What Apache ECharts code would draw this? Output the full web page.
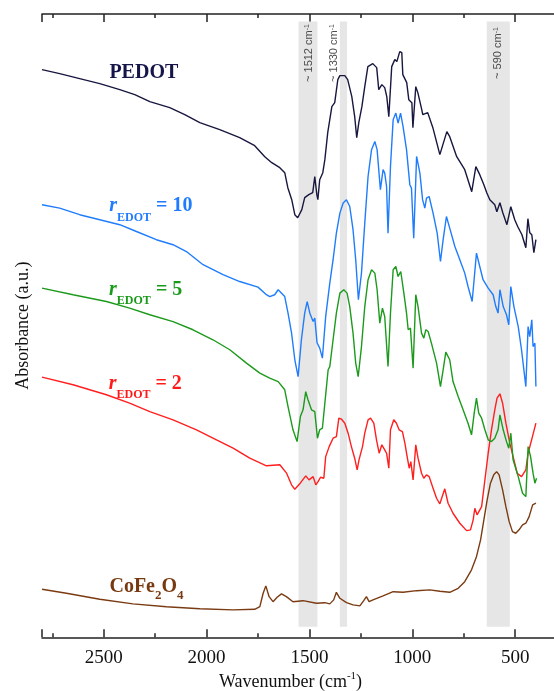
<!DOCTYPE html>
<html><head><meta charset="utf-8">
<script src="https://cdn.jsdelivr.net/npm/echarts@6/dist/echarts.min.js"></script>
<style>html,body{margin:0;padding:0;background:#fff}#c{width:554px;height:691px}</style>
</head><body><div id="c"></div>
<script>
// x: wavenumber (cm-1), y: absorbance (a.u., offset spectra)
const xTickLabels = [2500, 2000, 1500, 1000, 500];

const pedot = [[2800,2.837],[2714,2.817],[2617,2.792],[2519,2.767],[2422,2.737],[2349,2.712],[2276,2.677],[2179,2.647],[2106,2.612],[2033,2.572],[1936,2.537],[1839,2.497],[1766,2.457],[1717,2.402],[1683,2.372],[1644,2.347],[1620,2.322],[1605,2.247],[1586,2.187],[1571,2.112],[1557,2.097],[1537,2.137],[1523,2.197],[1503,2.212],[1484,2.222],[1474,2.302],[1464,2.212],[1459,2.187],[1450,2.287],[1435,2.322],[1425,2.387],[1411,2.522],[1391,2.652],[1377,2.672],[1362,2.787],[1352,2.807],[1328,2.807],[1314,2.787],[1294,2.702],[1280,2.602],[1270,2.497],[1260,2.572],[1245,2.652],[1231,2.752],[1216,2.852],[1192,2.867],[1173,2.847],[1163,2.737],[1148,2.762],[1134,2.747],[1124,2.702],[1114,2.602],[1100,2.852],[1085,2.887],[1075,2.877],[1061,2.927],[1051,2.922],[1046,2.812],[1027,2.772],[1017,2.687],[1002,2.672],[997,2.547],[983,2.752],[973,2.722],[954,2.637],[949,2.612],[925,2.622],[900,2.547],[866,2.412],[832,2.527],[818,2.502],[784,2.402],[745,2.337],[711,2.227],[691,2.352],[672,2.312],[652,2.262],[638,2.222],[623,2.187],[599,2.162],[589,2.127],[574,2.172],[560,2.122],[540,2.062],[521,2.152],[502,2.087],[487,2.052],[467,2.012],[448,1.947],[438,2.092],[429,2.022],[419,2.012],[409,1.922],[399,1.987]];

const rEdot10 = [[2800,2.162],[2714,2.145],[2617,2.112],[2519,2.087],[2422,2.062],[2341,2.028],[2244,1.987],[2163,1.962],[2098,1.928],[2017,1.862],[1920,1.812],[1839,1.778],[1750,1.750],[1709,1.712],[1693,1.703],[1669,1.712],[1652,1.737],[1644,1.728],[1620,1.703],[1604,1.620],[1587,1.522],[1571,1.387],[1555,1.303],[1539,1.487],[1523,1.620],[1511,1.678],[1498,1.620],[1482,1.578],[1474,1.595],[1463,1.472],[1450,1.445],[1437,1.395],[1421,1.603],[1401,1.770],[1385,1.887],[1369,2.020],[1352,2.120],[1336,2.170],[1320,2.187],[1304,2.153],[1288,2.037],[1275,1.887],[1262,1.687],[1247,1.820],[1231,2.070],[1215,2.303],[1198,2.437],[1182,2.478],[1171,2.437],[1155,2.237],[1142,2.337],[1134,2.320],[1125,2.253],[1118,2.020],[1106,2.353],[1093,2.587],[1080,2.620],[1069,2.570],[1057,2.620],[1045,2.553],[1028,2.437],[1012,2.262],[1004,2.245],[993,1.995],[979,2.403],[963,2.320],[950,2.187],[939,2.145],[931,2.195],[918,2.203],[899,2.120],[879,2.020],[863,1.878],[850,1.987],[834,2.103],[818,2.045],[793,1.953],[769,1.887],[745,1.820],[729,1.753],[709,1.678],[688,1.920],[672,1.853],[656,1.787],[631,1.745],[607,1.712],[594,1.653],[583,1.620],[574,1.737],[558,1.653],[542,1.612],[531,1.562],[521,1.753],[506,1.653],[485,1.553],[469,1.437],[448,1.253],[437,1.553],[429,1.503],[419,1.587],[413,1.453],[404,1.470],[399,1.253]];

const rEdot5 = [[2800,1.745],[2649,1.712],[2487,1.678],[2374,1.645],[2276,1.612],[2163,1.578],[2066,1.537],[1969,1.487],[1887,1.437],[1806,1.370],[1741,1.320],[1693,1.295],[1652,1.278],[1644,1.278],[1620,1.237],[1604,1.153],[1580,1.037],[1560,0.978],[1544,1.103],[1531,1.137],[1518,1.228],[1507,1.187],[1490,1.137],[1474,1.128],[1461,0.995],[1450,1.037],[1437,1.045],[1425,1.170],[1409,1.337],[1401,1.353],[1385,1.487],[1369,1.620],[1352,1.720],[1333,1.737],[1317,1.720],[1304,1.653],[1288,1.520],[1275,1.370],[1263,1.303],[1247,1.453],[1231,1.653],[1215,1.787],[1198,1.837],[1182,1.820],[1171,1.737],[1158,1.570],[1145,1.645],[1134,1.603],[1118,1.353],[1106,1.620],[1093,1.837],[1080,1.853],[1069,1.803],[1056,1.828],[1041,1.720],[1028,1.620],[1020,1.537],[1009,1.545],[996,1.345],[983,1.712],[972,1.653],[955,1.520],[944,1.495],[934,1.537],[923,1.528],[907,1.470],[882,1.370],[863,1.253],[850,1.337],[837,1.425],[818,1.387],[802,1.278],[777,1.203],[753,1.137],[729,1.070],[712,1.012],[699,1.120],[688,1.195],[677,1.120],[663,1.095],[647,1.037],[631,0.987],[615,0.978],[599,0.995],[583,1.037],[574,1.112],[558,1.037],[542,0.978],[531,0.945],[521,1.020],[510,0.887],[485,0.803],[464,0.720],[448,0.703],[437,0.953],[425,0.903],[413,0.820],[404,0.770],[396,0.795]];

const rEdot2 = [[2800,1.300],[2649,1.262],[2487,1.212],[2374,1.170],[2276,1.128],[2163,1.087],[2049,1.037],[1952,0.987],[1871,0.945],[1790,0.895],[1709,0.857],[1644,0.862],[1612,0.822],[1587,0.762],[1571,0.740],[1563,0.740],[1547,0.767],[1539,0.778],[1518,0.807],[1502,0.787],[1482,0.803],[1469,0.762],[1458,0.778],[1446,0.800],[1430,0.795],[1421,0.903],[1404,0.953],[1385,0.995],[1369,1.003],[1357,1.095],[1344,1.090],[1328,1.070],[1312,1.020],[1296,0.953],[1280,0.895],[1268,0.837],[1259,0.887],[1242,0.953],[1231,1.020],[1215,1.087],[1203,1.095],[1187,1.070],[1174,0.987],[1161,0.920],[1148,0.962],[1134,0.937],[1125,0.920],[1114,0.845],[1106,1.037],[1090,1.087],[1077,1.070],[1064,1.037],[1048,1.028],[1036,0.970],[1025,0.903],[1015,0.845],[1007,0.878],[996,0.787],[983,0.962],[972,0.895],[955,0.820],[944,0.795],[931,0.812],[918,0.803],[899,0.745],[882,0.695],[866,0.667],[842,0.742],[826,0.670],[802,0.620],[769,0.570],[736,0.533],[717,0.537],[704,0.587],[696,0.645],[685,0.612],[663,0.653],[647,0.787],[631,0.920],[615,1.037],[599,1.137],[588,1.195],[574,1.217],[561,1.170],[545,1.070],[526,0.970],[506,0.887],[490,0.820],[469,0.803],[448,0.837],[437,0.920],[420,0.987],[399,1.070]];

const coFe2O4 = [[2800,0.240],[2681,0.220],[2519,0.190],[2358,0.167],[2195,0.153],[2033,0.143],[1871,0.137],[1766,0.140],[1741,0.153],[1725,0.220],[1712,0.257],[1696,0.203],[1677,0.178],[1657,0.200],[1636,0.217],[1612,0.203],[1580,0.178],[1531,0.183],[1466,0.170],[1425,0.173],[1401,0.167],[1382,0.187],[1369,0.225],[1352,0.195],[1320,0.173],[1288,0.162],[1255,0.157],[1236,0.183],[1223,0.203],[1210,0.178],[1191,0.187],[1142,0.207],[1093,0.228],[1045,0.225],[979,0.233],[915,0.237],[866,0.230],[818,0.225],[777,0.245],[745,0.278],[712,0.337],[688,0.403],[668,0.487],[652,0.587],[636,0.687],[620,0.770],[604,0.812],[590,0.828],[578,0.812],[561,0.737],[545,0.653],[529,0.578],[513,0.528],[497,0.520],[481,0.537],[464,0.562],[448,0.570],[432,0.603],[415,0.662],[399,0.670]];

// shaded bands [from, to] (cm-1) and their vertical extent (a.u.)
const bandRanges = [[1553,1461],[1352,1317],[638,526]];
const bandExtent = [0.053, 3.078];
// band annotations: [wavenumber, absorbance, label number]
const bandLabels = [[1496,2.92,'1512'],[1372,2.92,'1330'],[574,2.92,'590']];
// series labels: [wavenumber, absorbance]
const seriesLabelPos = {
  pedot: [2305, 2.811],
  r10: [2271, 2.144],
  r5: [2296, 1.729],
  r2: [2298, 1.259],
  cofe: [2292, 0.240]
};

const C = {pedot:'#17173f', r10:'#1f7dfc', r5:'#1c9a1c', r2:'#ff1f1f', cofe:'#7a3b12'};
const LC = {pedot:'#15154a', r10:'#1f7cff', r5:'#199a19', r2:'#ff1a1a', cofe:'#773a10'};
const SERIF = 'Liberation Serif';

const axisColor = '#222';
const xBase = {type:'value', min:0, max:2800, inverse:true, splitLine:{show:false}};
function tickAxis(pos, interval, len, showLine, showLabel){
  return Object.assign({}, xBase, {
    position: pos, interval: interval,
    axisLine:{show:showLine, onZero:false, lineStyle:{color:axisColor, width:1.5}},
    axisTick:{show:true, inside:true, length:len, lineStyle:{color:axisColor, width:1.5}},
    axisLabel: showLabel ? {show:true, margin:11, color:'#111', fontFamily:SERIF, fontSize:19,
      formatter: v => xTickLabels.includes(v) ? String(v) : ''} : {show:false}
  });
}

function richFor(col){
  return {
    b:{fontFamily:SERIF, fontWeight:'bold', fontSize:20, lineHeight:24, verticalAlign:'top', color:col},
    r:{fontFamily:SERIF, fontWeight:'bold', fontStyle:'italic', fontSize:20, lineHeight:24, verticalAlign:'top', color:col},
    sub:{fontFamily:SERIF, fontWeight:'bold', fontSize:12, lineHeight:12, verticalAlign:'top', padding:[16,0,0,0], color:col},
    sub2:{fontFamily:SERIF, fontWeight:'bold', fontSize:13, lineHeight:13, verticalAlign:'top', padding:[12,0,0,0], color:col}
  };
}
function lab(key, text){
  return {value: seriesLabelPos[key], label:{formatter:text, color:LC[key], rich:richFor(LC[key])}};
}

const chart = echarts.init(document.getElementById('c'), null, {renderer:'canvas'});
chart.setOption({
  animation:false,
  backgroundColor:'#fff',
  grid:{left:42, right:-64, top:14, bottom:53.7, containLabel:false, outerBoundsMode:'none'},
  xAxis:[
    tickAxis('bottom', 500, 8, true, true),
    tickAxis('bottom', 250, 4, false, false),
    tickAxis('top', 500, 8, true, false),
    tickAxis('top', 250, 4, false, false)
  ],
  yAxis:{type:'value', min:0, max:3.115, splitLine:{show:false},
    axisLine:{show:true, lineStyle:{color:axisColor, width:1.5}},
    axisTick:{show:false}, axisLabel:{show:false},
    name:'Absorbance (a.u.)', nameLocation:'middle', nameGap:10, nameRotate:90,
    nameTextStyle:{fontFamily:SERIF, fontSize:18, color:'#111'}},
  graphic:[{type:'text', x:290.5, y:682, style:{
    text:'{a|Wavenumber (cm}{s|-1}{a|)}', align:'center', verticalAlign:'middle', fill:'#111',
    rich:{a:{fontFamily:SERIF, fontSize:18, lineHeight:22, fill:'#111'},
          s:{fontFamily:SERIF, fontSize:11, lineHeight:11, verticalAlign:'top', fill:'#111'}}}}],
  series:[
    {name:'bands', type:'line', data:[], z:0, silent:true,
      markArea:{silent:true, itemStyle:{color:'#e6e6e6'},
        data: bandRanges.map(b => [{xAxis:b[0], yAxis:bandExtent[1]}, {xAxis:b[1], yAxis:bandExtent[0]}])}},
    {name:'CoFe2O4', type:'line', data:coFe2O4, showSymbol:false, z:3, lineStyle:{color:C.cofe, width:1.4}},
    {name:'rEDOT=2', type:'line', data:rEdot2, showSymbol:false, z:3, lineStyle:{color:C.r2, width:1.4}},
    {name:'rEDOT=5', type:'line', data:rEdot5, showSymbol:false, z:3, lineStyle:{color:C.r5, width:1.4}},
    {name:'rEDOT=10', type:'line', data:rEdot10, showSymbol:false, z:3, lineStyle:{color:C.r10, width:1.4}},
    {name:'PEDOT', type:'line', data:pedot, showSymbol:false, z:3, lineStyle:{color:C.pedot, width:1.4}},
    {name:'seriesLabels', type:'scatter', symbolSize:0, z:5, silent:true,
      itemStyle:{opacity:1}, emphasis:{disabled:true},
      label:{show:true, position:'inside', opacity:1},
      data:[
        lab('pedot', '{b|PEDOT}'),
        lab('r10', '{r|r}{sub|EDOT}{b| = 10}'),
        lab('r5', '{r|r}{sub|EDOT}{b| = 5}'),
        lab('r2', '{r|r}{sub|EDOT}{b| = 2}'),
        lab('cofe', '{b|CoFe}{sub2|2}{b|O}{sub2|4}')
      ]},
    {name:'bandLabels', type:'scatter', symbolSize:0, z:5, silent:true, emphasis:{disabled:true},
      label:{show:true, position:'inside', rotate:90, color:'#222',
        rich:{t:{fontFamily:'Liberation Sans', fontSize:11, lineHeight:14, verticalAlign:'top', color:'#222'},
              s:{fontFamily:'Liberation Sans', fontSize:7, lineHeight:7, verticalAlign:'top', color:'#222'}},
        formatter: p => '{t|~ ' + p.data[2] + ' cm}{s|-1}'},
      data: bandLabels}
  ]
});
</script>
</body></html>
